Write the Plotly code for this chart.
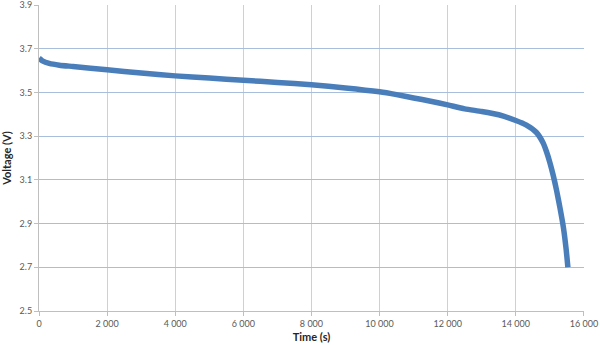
import plotly.graph_objects as go

# Discharge curve: time (s) vs cell voltage (V)
time_s = [0, 100, 300, 600, 1000, 2000, 3000, 4000, 5000, 6000, 7000, 8000,
          9000, 10000, 10500, 11000, 11500, 12000, 12500, 13000, 13500, 14000,
          14300, 14600, 14800, 14900, 15000, 15100, 15200, 15300, 15400,
          15480, 15530]
voltage_v = [3.657, 3.645, 3.633, 3.625, 3.619, 3.604, 3.589, 3.576, 3.566,
             3.556, 3.546, 3.535, 3.521, 3.503, 3.490, 3.475, 3.460, 3.443,
             3.425, 3.413, 3.398, 3.372, 3.352, 3.318, 3.270, 3.230, 3.180,
             3.120, 3.050, 2.970, 2.880, 2.780, 2.700]

x_ticks = [0, 2000, 4000, 6000, 8000, 10000, 12000, 14000, 16000]
y_ticks = [2.5, 2.7, 2.9, 3.1, 3.3, 3.5, 3.7, 3.9]

fig = go.Figure(
    go.Scatter(
        x=time_s, y=voltage_v, mode="lines",
        line=dict(color="#4a7ebb", width=5.5, shape="spline", smoothing=0.6),
        showlegend=False,
    )
)

font_family = "Lato, 'Open Sans', sans-serif"

fig.update_layout(
    width=600, height=345,
    margin=dict(l=39, r=16, t=5, b=34),
    paper_bgcolor="white", plot_bgcolor="white",
    separators=". ",
    font=dict(family=font_family, size=9, color="#595959"),
    xaxis=dict(
        # tiny pad so the 16 000 gridline is drawn at the right edge
        range=[0, 16003], tickvals=x_ticks, tickformat=",d",
        showgrid=True, gridcolor="#d0d0d0", gridwidth=1,
        showline=True, linecolor="#bfbfbf", linewidth=1,
        ticks="outside", ticklen=4, tickcolor="#bfbfbf",
        zeroline=False, ticklabeloverflow="allow", automargin=False,
        title=dict(text="<b>Time (s)</b>", standoff=5,
                   font=dict(family=font_family, size=11, color="#262626")),
    ),
    yaxis=dict(
        # tiny pad so the 3.9 gridline is drawn at the top edge
        range=[2.5, 3.9003], tickvals=y_ticks, tickformat=".1f",
        showgrid=True, gridcolor="#a8bfdc", gridwidth=1,
        showline=True, linecolor="#bfbfbf", linewidth=1,
        ticks="outside", ticklen=4, tickcolor="#bfbfbf",
        zeroline=False, ticklabeloverflow="allow", automargin=False,
        title=dict(text="<b>Voltage (V)</b>", standoff=8,
                   font=dict(family=font_family, size=11, color="#262626")),
    ),
)

fig.write_html("out.html")
